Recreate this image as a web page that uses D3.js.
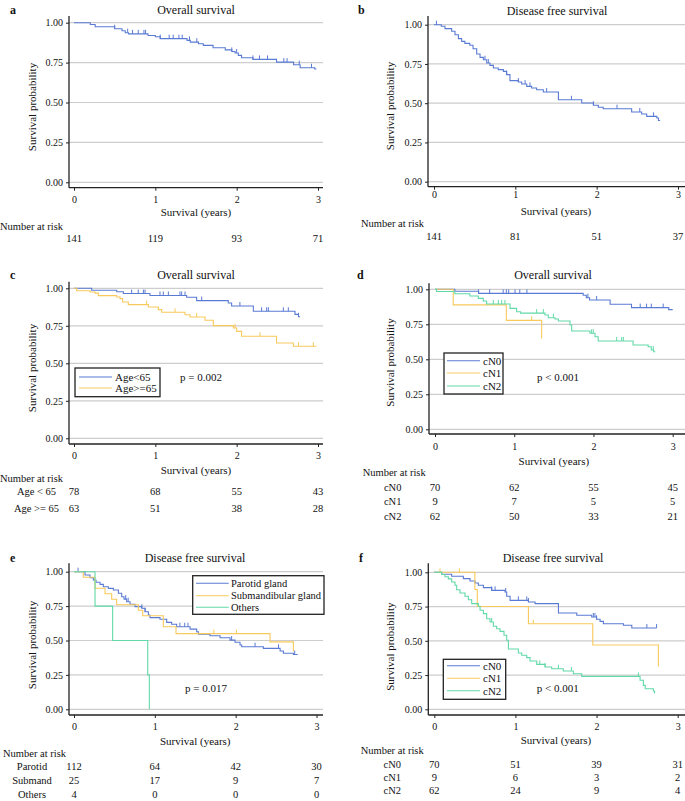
<!DOCTYPE html>
<html><head><meta charset="utf-8">
<script src="https://cdn.jsdelivr.net/npm/d3@7"></script>
<style>
body{margin:0;background:#fff}
svg{display:block;font-family:"Liberation Serif","Times New Roman",serif;}
</style>
</head><body>
<svg id="chart" width="685" height="801"></svg>
<script>
// ---------- shared ticks ----------
const timeTicks = [0, 1, 2, 3];
const survTicks = [0, 0.25, 0.5, 0.75, 1];

// ---------- panel a: overall survival ----------
const aTimes = [0.2,0.26,0.5,0.59,0.63,0.67,0.91,1.0,1.06,1.39,1.43,1.53,1.59,1.71,1.86,1.94,1.98,2.02,2.06,2.2,2.49,2.7,2.78,2.96];
const aSurv  = [0.989,0.975,0.962,0.95,0.937,0.93,0.92,0.912,0.9,0.889,0.878,0.868,0.858,0.843,0.83,0.82,0.81,0.795,0.78,0.77,0.753,0.737,0.718,0.71];
const aCensor = [0.5,0.66,0.72,0.79,0.86,0.88,1.06,1.17,1.22,1.29,1.33,1.42,1.51,1.94,2.0,2.2,2.28,2.38,2.58,2.62,2.77,2.92];
const aEnd = 2.98;
const aRisk = [141, 119, 93, 71];

// ---------- panel b: disease free survival ----------
const bTimes = [0.09,0.135,0.217,0.258,0.3,0.34,0.38,0.44,0.48,0.525,0.566,0.607,0.648,0.688,0.73,0.79,0.853,0.893,0.934,1.037,1.078,1.14,1.2,1.262,1.344,1.53,1.816,1.96,2.02,2.08,2.43,2.553,2.615,2.74,2.76];
const bSurv  = [0.99,0.975,0.958,0.936,0.911,0.894,0.881,0.869,0.847,0.813,0.792,0.777,0.756,0.741,0.724,0.714,0.703,0.682,0.644,0.635,0.622,0.607,0.597,0.586,0.571,0.522,0.501,0.487,0.474,0.465,0.444,0.431,0.416,0.406,0.39];
const bCensor = [0.03,0.627,0.668,0.893,1.037,1.12,1.18,1.385,1.53,1.69,1.96,2.25,2.53,2.7];
const bEnd = 2.78;
const bRisk = [141, 81, 51, 37];

// ---------- panel c: overall survival by age ----------
const cYoungTimes = [0.217,0.525,0.607,0.934,1.385,1.508,1.897,1.938,2.205,2.717,2.76];
const cYoungSurv  = [0.987,0.977,0.965,0.952,0.94,0.918,0.902,0.882,0.847,0.826,0.81];
const cYoungCensor = [0.709,0.79,0.853,0.873,1.057,1.098,1.16,1.303,1.324,1.365,1.57,2.04,2.307,2.369,2.39,2.574,2.635,2.76];
const cYoungEnd = 2.78;
const cOldTimes = [0.033,0.197,0.258,0.299,0.525,0.566,0.598,0.668,0.914,1.037,1.078,1.365,1.426,1.611,1.713,1.96,2.0,2.06,2.49,2.697];
const cOldSurv  = [0.984,0.975,0.968,0.951,0.942,0.931,0.909,0.891,0.875,0.858,0.84,0.824,0.809,0.787,0.751,0.735,0.713,0.68,0.635,0.614];
const cOldCensor = [0.893,1.242,1.508,1.98,2.287,2.76,2.943];
const cOldEnd = 2.98;
const cLegend = ["Age<65", "Age>=65"];
const cRowLabels = ["Age < 65", "Age >= 65"];
const cRisk = [[78, 68, 55, 43], [63, 51, 38, 28]];
const cP = "p = 0.002";

// ---------- panel d: overall survival by cN ----------
const dN0Times = [0.25,0.55,1.87,1.91,1.95,2.21,2.48,2.95];
const dN0Surv  = [0.986,0.971,0.957,0.94,0.924,0.893,0.869,0.855];
const dN0Censor = [0.55,0.69,0.86,0.9,0.93,1.01,1.07,1.16,1.93,2.04,2.59,2.67,2.73,2.88];
const dN0End = 3.0;
const dN1Times = [0.23,0.9,1.346];
const dN1Surv  = [0.889,0.778,0.648];
const dN1Censor = [1.22];
const dN1End = 1.346;
const dN2Times = [0.02,0.25,0.44,0.547,0.61,0.652,0.947,1.03,1.08,1.388,1.43,1.515,1.557,1.704,1.725,1.956,2.02,2.06,2.5,2.69,2.73,2.76];
const dN2Surv  = [0.984,0.968,0.952,0.935,0.916,0.895,0.864,0.84,0.83,0.816,0.797,0.788,0.774,0.745,0.702,0.686,0.661,0.631,0.602,0.59,0.566,0.554];
const dN2Censor = [0.736,0.8,0.842,0.883,1.283,1.367,1.494,1.977,1.998,2.293,2.356,2.377,2.755];
const dN2End = 2.78;
const nLegend = ["cN0", "cN1", "cN2"];
const dRisk = [[70, 62, 55, 45], [9, 7, 5, 5], [62, 50, 33, 21]];
const dP = "p < 0.001";

// ---------- panel e: disease free survival by site ----------
const eParTimes = [0.136,0.198,0.239,0.272,0.322,0.363,0.425,0.487,0.549,0.59,0.619,0.652,0.693,0.755,0.837,0.879,0.92,0.94,1.064,1.147,1.208,1.27,1.436,1.518,1.539,1.683,1.807,1.93,1.992,2.054,2.075,2.343,2.55,2.59,2.714];
const eParSurv  = [0.976,0.957,0.94,0.923,0.908,0.891,0.879,0.867,0.843,0.818,0.801,0.782,0.763,0.746,0.734,0.709,0.685,0.666,0.654,0.632,0.618,0.6,0.583,0.564,0.545,0.535,0.52,0.503,0.487,0.467,0.455,0.443,0.424,0.407,0.398];
const eParCensor = [0.05,0.64,0.67,0.84,0.88,1.31,1.37,1.41,1.95,2.24,2.53,2.73];
const eParEnd = 2.768;
const eSubTimes = [0.115,0.26,0.384,0.466,0.528,0.796,0.85,1.105,1.262,2.425,2.714];
const eSubSurv  = [0.96,0.88,0.84,0.80,0.76,0.72,0.68,0.60,0.55,0.49,0.42];
const eSubCensor = [1.73,2.01];
const eSubEnd = 2.714;
const eOthTimes = [0.26,0.478,0.912,0.932];
const eOthSurv  = [0.75,0.5,0.25,0];
const eOthCensor = [];
const eOthEnd = 0.932;
const eLegend = ["Parotid gland", "Submandibular gland", "Others"];
const eRowLabels = ["Parotid", "Submand", "Others"];
const eRisk = [[112, 64, 42, 30], [25, 17, 9, 7], [4, 0, 0, 0]];
const eP = "p = 0.017";

// ---------- panel f: disease free survival by cN ----------
const fN0Times = [0.091,0.214,0.358,0.44,0.502,0.543,0.605,0.707,0.872,0.892,0.934,1.16,1.242,1.53,1.756,1.94,2.0,2.043,2.084,2.331,2.434];
const fN0Surv  = [0.986,0.971,0.954,0.936,0.922,0.905,0.888,0.868,0.856,0.825,0.795,0.783,0.771,0.703,0.686,0.674,0.657,0.642,0.625,0.613,0.593];
const fN0Censor = [0.707,0.749,0.88,1.036,1.14,1.16,1.96,1.98,2.0,2.62,2.74];
const fN0End = 2.74;
const fN1Times = [0.5,0.53,1.16,1.953,2.762];
const fN1Surv  = [0.875,0.75,0.625,0.469,0.312];
const fN1Censor = [0.07,0.31,1.22];
const fN1End = 2.762;
const fN2Times = [0.091,0.132,0.173,0.214,0.255,0.276,0.317,0.378,0.42,0.461,0.543,0.564,0.605,0.646,0.687,0.728,0.769,0.81,0.859,0.892,0.913,1.036,1.077,1.139,1.18,1.263,1.365,1.447,1.59,1.714,1.817,2.536,2.577,2.6,2.7,2.715];
const fN2Surv  = [0.984,0.968,0.952,0.929,0.905,0.873,0.849,0.825,0.80,0.771,0.752,0.723,0.698,0.661,0.637,0.606,0.588,0.569,0.54,0.504,0.44,0.411,0.394,0.377,0.353,0.328,0.309,0.296,0.28,0.26,0.24,0.212,0.175,0.15,0.134,0.12];
const fN2Censor = [0.707,1.30,1.365,1.53,1.69,2.516];
const fN2End = 2.72;
const fRisk = [[70, 51, 39, 31], [9, 6, 3, 2], [62, 24, 9, 4]];
const fP = "p < 0.001";

const panelTitles = ["Overall survival", "Disease free survival", "Overall survival", "Overall survival", "Disease free survival", "Disease free survival"];
const panelLetters = ["a", "b", "c", "d", "e", "f"];

// ---------- styles / layout ----------
const BLUE = "#5a7bd3", YELLOW = "#f8c95c", GREEN = "#62d9a8";
const svg = d3.select("#chart");

function series(times, surv, censor, end, color) {
  return {times, surv, censor, end, color};
}

const layouts = [
  {axisX:69, x0:74, x3:318, right:323, y1:22.7, y0:182.3, axisTop:16, axisY:187.7,
   titleX:196, titleY:13.5, letterX:10, letterY:14, tickY:202.8, xTitleY:216, yTitleX:32, yTitleY:107,
   nrX:0, nrY:229.5, rowsY:[241.5], rowLabelX:null},
  {axisX:428, x0:434, x3:678, right:685, y1:24.7, y0:181.7, axisTop:16, axisY:186.7,
   titleX:557, titleY:15, letterX:358, letterY:14, tickY:198.5, xTitleY:214.5, yTitleX:390, yTitleY:106,
   nrX:361, nrY:226.5, rowsY:[239.5], rowLabelX:null},
  {axisX:69, x0:74, x3:318, right:323, y1:288.3, y0:438.3, axisTop:281.7, axisY:444,
   titleX:196, titleY:279, letterX:10, letterY:279, tickY:458.5, xTitleY:474, yTitleX:32, yTitleY:368,
   nrX:0, nrY:481.5, rowsY:[494.5, 511.5], rowLabelX:36.5,
   legend:{x:75, y:368, w:85, h:28.7, rowsY:[377, 388], lx1:79, lx2:112, tx:115, fs:11},
   p:{x:180, y:380.5}},
  {axisX:429, x0:435, x3:672.7, right:685, y1:289.3, y0:429.3, axisTop:283.3, axisY:434,
   titleX:553, titleY:279, letterX:357, letterY:279, tickY:449.5, xTitleY:464.5, yTitleX:390, yTitleY:362.5,
   nrX:362.7, nrY:476, rowsY:[491, 504.5, 519.5], rowLabelX:392.7,
   legend:{x:444, y:353, w:59, h:41, rowsY:[360.7, 373, 386], lx1:447, lx2:480, tx:483, fs:11},
   p:{x:537, y:380.5}},
  {axisX:69, x0:74, x3:316.5, right:323, y1:571.7, y0:709.3, axisTop:563.3, axisY:715,
   titleX:195, titleY:561.5, letterX:10, letterY:561.5, tickY:729.5, xTitleY:744.5, yTitleX:32, yTitleY:645,
   nrX:3, nrY:756.5, rowsY:[770.2, 783.5, 797.5], rowLabelX:32,
   legend:{x:192.7, y:575.7, w:131.3, h:38.6, rowsY:[583.3, 595.7, 607.3], lx1:196, lx2:228.7, tx:231, fs:10.5},
   p:{x:185, y:691.5}},
  {axisX:428.3, x0:434.3, x3:677.7, right:685, y1:572.3, y0:709.3, axisTop:563.3, axisY:715,
   titleX:553, titleY:561.5, letterX:359, letterY:561.5, tickY:729.5, xTitleY:744.2, yTitleX:390, yTitleY:646.7,
   nrX:360.7, nrY:753.5, rowsY:[767.8, 780.8, 794.2], rowLabelX:392.3,
   legend:{x:443.3, y:659.3, w:62.4, h:40, rowsY:[665.7, 678.3, 690.7], lx1:447, lx2:480, tx:483, fs:11},
   p:{x:536.7, y:691.8}}
];

const panels = [
  {series:[series(aTimes, aSurv, aCensor, aEnd, BLUE)], risk:[aRisk], rowLabels:null},
  {series:[series(bTimes, bSurv, bCensor, bEnd, BLUE)], risk:[bRisk], rowLabels:null},
  {series:[series(cYoungTimes, cYoungSurv, cYoungCensor, cYoungEnd, BLUE),
           series(cOldTimes, cOldSurv, cOldCensor, cOldEnd, YELLOW)],
   risk:cRisk, rowLabels:cRowLabels, legend:cLegend, pText:cP},
  {series:[series(dN0Times, dN0Surv, dN0Censor, dN0End, BLUE),
           series(dN1Times, dN1Surv, dN1Censor, dN1End, YELLOW),
           series(dN2Times, dN2Surv, dN2Censor, dN2End, GREEN)],
   risk:dRisk, rowLabels:nLegend, legend:nLegend, pText:dP},
  {series:[series(eParTimes, eParSurv, eParCensor, eParEnd, BLUE),
           series(eSubTimes, eSubSurv, eSubCensor, eSubEnd, YELLOW),
           series(eOthTimes, eOthSurv, eOthCensor, eOthEnd, GREEN)],
   risk:eRisk, rowLabels:eRowLabels, legend:eLegend, pText:eP},
  {series:[series(fN0Times, fN0Surv, fN0Censor, fN0End, BLUE),
           series(fN1Times, fN1Surv, fN1Censor, fN1End, YELLOW),
           series(fN2Times, fN2Surv, fN2Censor, fN2End, GREEN)],
   risk:fRisk, rowLabels:nLegend, legend:nLegend, pText:fP}
];

function survAt(s, t) {
  let v = 1;
  for (let i = 0; i < s.times.length; i++) { if (s.times[i] <= t) v = s.surv[i]; }
  return v;
}

panels.forEach((panel, i) => {
  const L = layouts[i];
  const g = svg.append("g");
  const x = d3.scaleLinear().domain([0, 3]).range([L.x0, L.x3]);
  const y = d3.scaleLinear().domain([0, 1]).range([L.y0, L.y1]);

  // gridlines
  g.append("g").selectAll("line").data(survTicks).join("line")
    .attr("x1", L.axisX).attr("x2", L.right)
    .attr("y1", d => y(d)).attr("y2", d => y(d))
    .attr("stroke", "#cdcdcd").attr("stroke-width", 1.2);

  // y axis
  const ya = g.append("g").attr("transform", `translate(${L.axisX},0)`)
    .call(d3.axisLeft(y).tickValues(survTicks).tickFormat(d3.format(".2f")).tickSize(3).tickPadding(3));
  ya.select(".domain").remove();
  ya.selectAll("text").attr("font-size", 10).attr("font-family", "Liberation Serif").attr("fill", "#111");
  ya.selectAll(".tick line").attr("stroke", "#222");
  g.append("line").attr("x1", L.axisX).attr("x2", L.axisX).attr("y1", L.axisTop).attr("y2", L.axisY)
    .attr("stroke", "#222").attr("stroke-width", 1.3);

  // x axis
  const xa = g.append("g").attr("transform", `translate(0,${L.axisY})`)
    .call(d3.axisBottom(x).tickValues(timeTicks).tickFormat(d3.format("d")).tickSize(3));
  xa.select(".domain").remove();
  xa.selectAll("text").attr("font-size", 10).attr("font-family", "Liberation Serif").attr("fill", "#111")
    .attr("y", L.tickY - L.axisY).attr("dy", null);
  xa.selectAll(".tick line").attr("stroke", "#222");
  g.append("line").attr("x1", L.axisX).attr("x2", L.right).attr("y1", L.axisY).attr("y2", L.axisY)
    .attr("stroke", "#222").attr("stroke-width", 1.3);

  // titles
  g.append("text").attr("x", L.titleX).attr("y", L.titleY).attr("text-anchor", "middle")
    .attr("font-size", 12).attr("fill", "#111").text(panelTitles[i]);
  g.append("text").attr("x", L.letterX).attr("y", L.letterY).attr("font-size", 12)
    .attr("font-weight", "bold").attr("fill", "#111").text(panelLetters[i]);
  g.append("text").attr("x", (L.x0 + L.x3) / 2).attr("y", L.xTitleY).attr("text-anchor", "middle")
    .attr("font-size", 11).attr("fill", "#111").text("Survival (years)");
  g.append("text").attr("transform", `translate(${L.yTitleX},${L.yTitleY}) rotate(-90)`)
    .attr("text-anchor", "middle").attr("dy", "0.35em")
    .attr("font-size", 11).attr("fill", "#111").text("Survival probability");

  // curves
  const line = d3.line().x(d => x(d[0])).y(d => y(d[1])).curve(d3.curveStepAfter);
  panel.series.forEach(s => {
    const pts = [[0, 1]];
    s.times.forEach((t, k) => pts.push([t, s.surv[k]]));
    pts.push([s.end, s.surv[s.surv.length - 1]]);
    g.append("path").datum(pts).attr("d", line).attr("fill", "none")
      .attr("stroke", s.color).attr("stroke-width", 1.1);
    g.append("g").selectAll("line").data(s.censor).join("line")
      .attr("x1", d => x(d)).attr("x2", d => x(d))
      .attr("y1", d => y(survAt(s, d))).attr("y2", d => y(survAt(s, d)) - 4)
      .attr("stroke", s.color).attr("stroke-width", 1);
  });

  // legend
  if (L.legend && panel.legend) {
    const lg = L.legend;
    g.append("rect").attr("x", lg.x).attr("y", lg.y).attr("width", lg.w).attr("height", lg.h)
      .attr("fill", "#fff").attr("stroke", "#222").attr("stroke-width", 1.3);
    panel.legend.forEach((name, k) => {
      g.append("line").attr("x1", lg.lx1).attr("x2", lg.lx2).attr("y1", lg.rowsY[k]).attr("y2", lg.rowsY[k])
        .attr("stroke", panel.series[k].color).attr("stroke-width", 1.1);
      g.append("text").attr("x", lg.tx).attr("y", lg.rowsY[k]).attr("dy", "0.35em")
        .attr("font-size", lg.fs).attr("fill", "#111").text(name);
    });
  }
  if (L.p && panel.pText) {
    g.append("text").attr("x", L.p.x).attr("y", L.p.y).attr("font-size", 11).attr("fill", "#111").text(panel.pText);
  }

  // number at risk
  g.append("text").attr("x", L.nrX).attr("y", L.nrY).attr("font-size", 10.5).attr("fill", "#111").text("Number at risk");
  panel.risk.forEach((row, r) => {
    if (panel.rowLabels) {
      g.append("text").attr("x", L.rowLabelX).attr("y", L.rowsY[r]).attr("text-anchor", "middle")
        .attr("font-size", 10.5).attr("fill", "#111").text(panel.rowLabels[r]);
    }
    g.append("g").selectAll("text").data(row).join("text")
      .attr("x", (d, k) => x(timeTicks[k])).attr("y", L.rowsY[r]).attr("text-anchor", "middle")
      .attr("font-size", 10.5).attr("fill", "#111").text(d => d);
  });
});
</script>
</body></html>
